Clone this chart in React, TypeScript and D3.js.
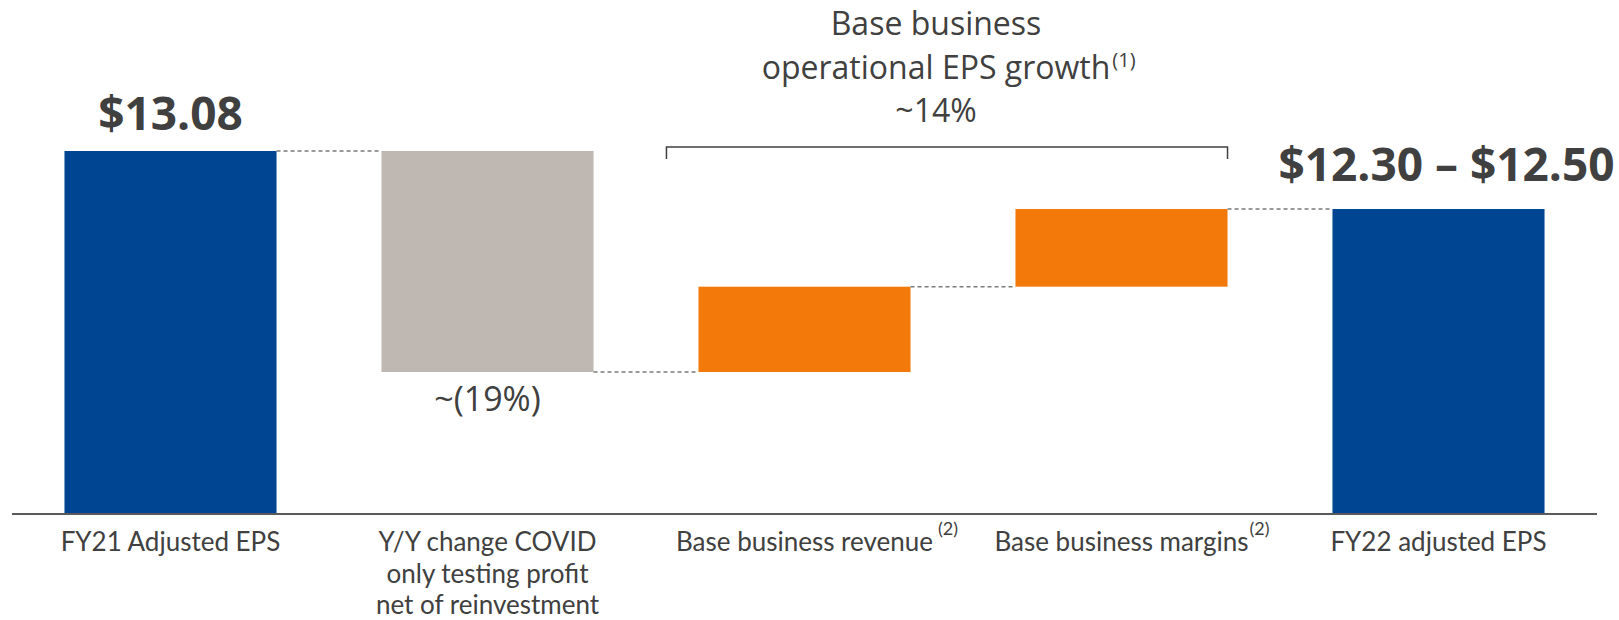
import React, { useEffect, useRef } from "react";
import * as d3 from "d3";

// ---- data ----
const categories = ["FY21", "COVID", "Revenue", "Margins", "FY22"];
const categoryLabels: string[][] = [
  ["FY21 Adjusted EPS"],
  ["Y/Y change COVID", "only testing profit", "net of reinvestment"],
  ["Base business revenue"],
  ["Base business margins"],
  ["FY22 adjusted EPS"],
];
const labelSuperscripts = ["", "", "(2)", "(2)", ""];
const stepValues = [13.08, -2.59, 1.0, 0.91, 12.4];
const stepKinds = ["total", "delta", "delta", "delta", "total"];
const barColors = ["#004592", "#bfb8b2", "#f3790b", "#f3790b", "#004592"];
const valueLabels = ["$13.08", "", "", "", "$12.30 – $12.50"];
const deltaLabels = ["", "~(19%)", "", "", ""];
const yDomain = [8.838, 13.08];
const bracketTitle = ["Base business", "operational EPS growth", "~14%"];
const bracketTitleSup = ["", "(1)", ""];
const bracketFrom = "Revenue";
const bracketTo = "Margins";

const W = 1619;
const H = 620;
const TEXT = "#404040";
const FONT = "'Open Sans', 'Noto Sans', sans-serif";
const LABEL_FONT = "Lato, 'Open Sans', sans-serif";

export default function App() {
  const ref = useRef<SVGSVGElement>(null);

  useEffect(() => {
    const svg = d3.select(ref.current);
    svg.selectAll("*").remove();

    const x = d3
      .scaleBand<string>()
      .domain(categories)
      .range([12, 1597])
      .paddingInner(0.331)
      .paddingOuter(0.1655);
    const y = d3.scaleLinear().domain(yDomain).range([513, 151]);

    // compute waterfall extents
    let running = 0;
    const bars = categories.map((c, i) => {
      let lo: number, hi: number, end: number;
      if (stepKinds[i] === "total") {
        lo = yDomain[0];
        hi = stepValues[i];
        end = stepValues[i];
      } else {
        const start = running;
        end = running + stepValues[i];
        lo = Math.min(start, end);
        hi = Math.max(start, end);
      }
      running = end;
      return { c, i, lo, hi, end };
    });

    // bars
    svg
      .append("g")
      .selectAll("rect")
      .data(bars)
      .join("rect")
      .attr("x", (d) => x(d.c)!)
      .attr("width", x.bandwidth())
      .attr("y", (d) => y(d.hi))
      .attr("height", (d) => y(d.lo) - y(d.hi))
      .attr("fill", (d) => barColors[d.i]);

    // connectors
    const conn = svg.append("g");
    for (let i = 0; i < bars.length - 1; i++) {
      const v = bars[i].end;
      conn
        .append("line")
        .attr("x1", x(categories[i])! + x.bandwidth())
        .attr("x2", x(categories[i + 1])!)
        .attr("y1", y(v))
        .attr("y2", y(v))
        .attr("stroke", "#7a7a7a")
        .attr("stroke-width", 1.5)
        .attr("stroke-dasharray", "4,3");
    }

    // baseline
    svg
      .append("line")
      .attr("x1", x.range()[0])
      .attr("x2", x.range()[1])
      .attr("y1", 514)
      .attr("y2", 514)
      .attr("stroke", "#5a5a5a")
      .attr("stroke-width", 2);

    // category labels
    const lab = svg.append("g").attr("font-family", LABEL_FONT).attr("fill", TEXT);
    categories.forEach((c, i) => {
      const cx = x(c)! + x.bandwidth() / 2;
      const t = lab
        .append("text")
        .attr("x", cx)
        .attr("y", 551)
        .attr("text-anchor", "middle")
        .attr("font-size", 26);
      categoryLabels[i].forEach((line, k) => {
        t.append("tspan")
          .attr("x", cx)
          .attr("dy", k === 0 ? 0 : 31.5)
          .text(line);
      });
      if (labelSuperscripts[i]) {
        const w = (t.node() as SVGTextElement).getComputedTextLength();
        lab
          .append("text")
          .attr("x", cx + w / 2 + (i === 2 ? 5 : 1))
          .attr("y", 535)
          .attr("font-size", 18)
          .text(labelSuperscripts[i]);
      }
    });

    // value labels (totals)
    categories.forEach((c, i) => {
      if (!valueLabels[i]) return;
      const cx = x(c)! + x.bandwidth() / 2 + (i === 4 ? 8 : 0);
      svg
        .append("text")
        .attr("x", cx)
        .attr("y", y(bars[i].hi) - 21 - (i === 4 ? 7 : 0))
        .attr("text-anchor", "middle")
        .attr("font-family", FONT)
        .attr("font-weight", 700)
        .attr("font-size", 46)
        .attr("fill", TEXT)
        .text(valueLabels[i]);
    });

    // delta labels
    categories.forEach((c, i) => {
      if (!deltaLabels[i]) return;
      svg
        .append("text")
        .attr("x", x(c)! + x.bandwidth() / 2)
        .attr("y", y(bars[i].lo) + 39)
        .attr("text-anchor", "middle")
        .attr("font-family", FONT)
        .attr("font-size", 34)
        .attr("fill", TEXT)
        .text(deltaLabels[i]);
    });

    // bracket
    const bx1 = x(bracketFrom)! - 32;
    const bx2 = x(bracketTo)! + x.bandwidth();
    svg
      .append("path")
      .attr("d", `M${bx1},159 V147 H${bx2} V159`)
      .attr("fill", "none")
      .attr("stroke", TEXT)
      .attr("stroke-width", 1.5);

    const tcx = 936;
    const tg = svg.append("g").attr("font-family", FONT).attr("fill", TEXT);
    bracketTitle.forEach((line, k) => {
      const t = tg
        .append("text")
        .attr("x", tcx)
        .attr("y", 35 + k * 43.5)
        .attr("text-anchor", "middle")
        .attr("font-size", 32)
        .text(line);
      if (bracketTitleSup[k]) {
        const w = (t.node() as SVGTextElement).getComputedTextLength();
        tg.append("text")
          .attr("x", tcx + w / 2 + 2)
          .attr("y", 35 + k * 43.5 - 12)
          .attr("font-size", 20)
          .text(bracketTitleSup[k]);
      }
    });
  }, []);

  return (
    <svg
      ref={ref}
      width={W}
      height={H}
      style={{ position: "absolute", left: 0, top: 0, background: "#fff" }}
    />
  );
}
